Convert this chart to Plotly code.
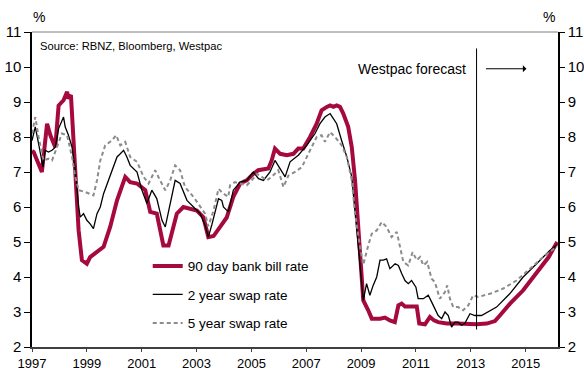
import plotly.graph_objects as go

# ---------------- data ----------------
bill_years = [1997.0, 1997.06, 1997.36, 1997.55, 1997.67, 1997.85, 1997.97, 1998.15, 1998.28, 1998.33,
              1998.42, 1998.46, 1998.58, 1998.70, 1998.82, 1999.0, 1999.12, 1999.37, 1999.61, 1999.85,
              2000.10, 2000.40, 2000.58, 2000.83, 2001.13, 2001.31, 2001.55, 2001.79, 2001.98, 2002.28,
              2002.52, 2003.01, 2003.25, 2003.43, 2003.62, 2003.86, 2004.10, 2004.34, 2004.59, 2004.83,
              2005.07, 2005.25, 2005.62, 2005.74, 2005.86, 2006.05, 2006.29, 2006.53, 2006.71, 2006.89,
              2007.14, 2007.38, 2007.56, 2007.75, 2007.87, 2007.99, 2008.11, 2008.23, 2008.35, 2008.53,
              2008.66, 2008.78, 2008.90, 2009.02, 2009.08, 2009.26, 2009.39, 2009.69, 2009.87, 2010.05,
              2010.23, 2010.36, 2010.48, 2010.60, 2011.03, 2011.12, 2011.33, 2011.51, 2011.66, 2011.81,
              2012.12, 2012.48, 2013.21, 2013.58, 2013.88, 2014.06, 2014.43, 2014.91, 2015.40, 2015.84,
              2016.15]
bill_rate = [7.6, 7.57, 7.0, 8.38, 8.05, 7.71, 8.9, 9.05, 9.29, 9.1,
             9.2, 8.67, 7.33, 5.33, 4.48, 4.38, 4.57, 4.71, 4.86, 5.43,
             6.19, 6.86, 6.71, 6.67, 6.48, 5.86, 5.81, 4.9, 4.9, 5.81,
             6.0, 5.9, 5.71, 5.14, 5.17, 5.43, 5.7, 6.29, 6.67, 6.76,
             6.95, 7.05, 7.1, 7.33, 7.67, 7.52, 7.48, 7.52, 7.67, 7.67,
             8.0, 8.38, 8.76, 8.86, 8.9, 8.86, 8.9, 8.86, 8.67, 8.29,
             7.71, 6.76, 5.33, 4.0, 3.33, 3.05, 2.81, 2.81, 2.84, 2.76,
             2.71, 3.19, 3.24, 3.16, 3.16, 2.67, 2.65, 2.86, 2.76, 2.71,
             2.67, 2.67, 2.65, 2.67, 2.74, 2.9, 3.24, 3.62, 4.10, 4.57,
             5.0]

swap2_years = [1997.0, 1997.12, 1997.24, 1997.40, 1997.48, 1997.60, 1997.73, 1997.85, 1997.97, 1998.15,
               1998.21, 1998.33, 1998.46, 1998.58, 1998.70, 1998.76, 1998.88, 1999.00, 1999.12, 1999.24,
               1999.37, 1999.49, 1999.61, 1999.79, 1999.97, 2000.10, 2000.22, 2000.34, 2000.46, 2000.58,
               2000.83, 2001.01, 2001.19, 2001.37, 2001.55, 2001.74, 2001.86, 2002.04, 2002.22, 2002.40,
               2002.65, 2002.89, 2003.13, 2003.31, 2003.43, 2003.56, 2003.74, 2003.80, 2003.92, 2003.98,
               2004.16, 2004.34, 2004.59, 2004.83, 2005.07, 2005.26, 2005.44, 2005.68, 2005.86, 2006.05,
               2006.23, 2006.41, 2006.71, 2007.02, 2007.32, 2007.50, 2007.68, 2007.87, 2007.99, 2008.11,
               2008.29, 2008.48, 2008.66, 2008.78, 2008.90, 2009.08, 2009.20, 2009.32, 2009.44, 2009.57,
               2009.69, 2009.81, 2009.93, 2010.05, 2010.24, 2010.36, 2010.48, 2010.60, 2010.72, 2010.84,
               2011.00, 2011.08, 2011.27, 2011.45, 2011.57, 2011.69, 2011.81, 2011.94, 2012.06, 2012.18,
               2012.30, 2012.42, 2012.54, 2012.66, 2012.78, 2012.97, 2013.15, 2013.39, 2013.63, 2013.94,
               2014.42, 2014.91, 2015.40, 2015.88, 2016.15]
swap2_rate = [7.9, 8.29, 7.81, 7.14, 7.62, 7.57, 7.62, 7.71, 8.24, 8.57,
              8.29, 8.05, 7.71, 7.05, 6.0, 5.71, 5.81, 5.62, 5.52, 5.38,
              5.81, 6.0, 6.38, 6.76, 7.19, 7.43, 7.52, 7.62, 7.43, 7.19,
              7.0, 6.48, 6.10, 6.48, 6.24, 5.62, 5.43, 6.10, 6.76, 6.67,
              6.19, 6.0, 5.81, 5.48, 5.14, 5.5, 6.10, 6.24, 6.19, 6.0,
              5.86, 6.48, 6.71, 6.76, 7.0, 6.81, 6.76, 7.0, 7.33, 7.10,
              6.86, 7.29, 7.48, 7.76, 8.10, 8.38, 8.57, 8.67, 8.52, 8.38,
              7.90, 7.43, 6.86, 5.90, 4.95, 3.33, 3.81, 3.48, 3.76, 4.0,
              4.48, 4.48, 4.52, 4.24, 4.38, 4.33, 4.10, 3.90, 3.81, 3.90,
              3.71, 3.38, 3.38, 3.48, 3.29, 3.10, 2.90, 2.81, 3.0, 2.90,
              2.57, 2.71, 2.71, 2.62, 2.67, 2.95, 2.90, 2.90, 3.0, 3.14,
              3.52, 4.0, 4.38, 4.76, 4.92]

swap5_years = [1997.0, 1997.12, 1997.24, 1997.42, 1997.60, 1997.73, 1997.91, 1998.09, 1998.28, 1998.46,
               1998.58, 1998.70, 1998.94, 1999.24, 1999.37, 1999.49, 1999.67, 1999.91, 2000.07, 2000.22,
               2000.40, 2000.58, 2000.83, 2001.07, 2001.25, 2001.49, 2001.67, 2001.86, 2002.04, 2002.22,
               2002.40, 2002.58, 2002.89, 2003.13, 2003.31, 2003.43, 2003.62, 2003.80, 2003.98, 2004.16,
               2004.22, 2004.40, 2004.65, 2004.83, 2005.01, 2005.20, 2005.38, 2005.56, 2005.74, 2005.98,
               2006.17, 2006.35, 2006.59, 2006.84, 2007.14, 2007.38, 2007.56, 2007.68, 2007.87, 2008.05,
               2008.29, 2008.48, 2008.66, 2008.78, 2008.96, 2009.08, 2009.26, 2009.39, 2009.57, 2009.75,
               2009.93, 2010.11, 2010.30, 2010.42, 2010.54, 2010.72, 2010.88, 2011.03, 2011.15, 2011.27,
               2011.41, 2011.57, 2011.69, 2011.87, 2012.06, 2012.14, 2012.24, 2012.36, 2012.54, 2012.72,
               2012.91, 2013.09, 2013.27, 2013.70, 2014.18, 2014.67, 2015.15, 2015.64, 2016.15]
swap5_rate = [8.10, 8.57, 8.0, 7.33, 7.38, 7.33, 7.71, 8.10, 8.05, 7.43,
              6.86, 6.48, 6.43, 6.33, 6.76, 7.33, 7.76, 7.90, 8.05, 7.76,
              7.86, 7.43, 7.29, 6.86, 6.67, 7.05, 6.76, 6.48, 6.76, 7.19,
              7.05, 6.57, 6.29, 6.02, 5.81, 5.45, 5.90, 6.52, 6.38, 6.29,
              6.62, 6.71, 6.67, 6.62, 6.76, 6.95, 6.86, 6.76, 6.86, 7.05,
              6.57, 6.90, 7.0, 7.14, 7.62, 8.0, 8.05, 7.86, 8.14, 8.0,
              7.76, 7.43, 6.76, 5.81, 4.86, 4.35, 4.90, 5.24, 5.33, 5.57,
              5.43, 5.14, 5.29, 4.90, 4.43, 4.33, 4.71, 4.48, 4.57, 4.33,
              4.43, 3.95, 3.86, 3.38, 3.57, 3.76, 3.38, 3.14, 3.14, 3.05,
              3.19, 3.48, 3.43, 3.52, 3.67, 3.90, 4.24, 4.57, 4.88]

series_names = ["90 day bank bill rate", "2 year swap rate", "5 year swap rate"]
x_tick_vals = [1997, 1999, 2001, 2003, 2005, 2007, 2009, 2011, 2013, 2015]
y_tick_vals = [2, 3, 4, 5, 6, 7, 8, 9, 10, 11]
forecast_start = 2013.21
source_text = "Source: RBNZ, Bloomberg, Westpac"
forecast_text = "Westpac forecast"

# ---------------- figure ----------------
FONT = "Liberation Sans, Arial, sans-serif"
RED = "#A6093D"

fig = go.Figure()
fig.add_trace(go.Scatter(x=bill_years, y=bill_rate, mode="lines", name=series_names[0],
                         legendgroup="a", line=dict(color=RED, width=4)))
fig.add_trace(go.Scatter(x=swap2_years, y=swap2_rate, mode="lines", name=series_names[1],
                         legendgroup="b", line=dict(color="#000000", width=1.3)))
fig.add_trace(go.Scatter(x=swap5_years, y=swap5_rate, mode="lines", name=series_names[2],
                         legendgroup="c", line=dict(color="#8c8c8c", width=2, dash="4px,3px")))
# invisible trace to activate the right-hand axis
fig.add_trace(go.Scatter(x=[x_tick_vals[0]], y=[y_tick_vals[0]], yaxis="y2", mode="lines",
                         showlegend=False, hoverinfo="skip", line=dict(width=0)))

fig.add_shape(type="line", xref="x", yref="y", x0=forecast_start, x1=forecast_start,
              y0=2.5, y1=10.53, line=dict(color="#000000", width=1))
# top frame line
fig.add_shape(type="line", xref="paper", yref="paper", x0=0, x1=1, y0=1, y1=1,
              line=dict(color="#7f7f7f", width=1))

fig.add_annotation(x=forecast_start, y=9.95, xref="x", yref="y", text=forecast_text,
                   showarrow=False, xanchor="right", yanchor="middle", xshift=-9,
                   font=dict(family=FONT, size=14, color="#000000"))
fig.add_annotation(x=2015.03, y=9.95, xref="x", yref="y", ax=-42, ay=0, text="",
                   showarrow=True, arrowhead=1, arrowsize=1.2, arrowwidth=1, arrowcolor="#000000")
fig.add_annotation(x=0.012, y=0.955, xref="paper", yref="paper", text=source_text,
                   showarrow=False, xanchor="left", yanchor="middle",
                   font=dict(family=FONT, size=11.2, color="#000000"))
fig.add_annotation(x=0.014, y=1.0, xref="paper", yref="paper", text="%", showarrow=False,
                   xanchor="center", yanchor="bottom", yshift=5,
                   font=dict(family=FONT, size=14, color="#000000"))
fig.add_annotation(x=0.983, y=1.0, xref="paper", yref="paper", text="%", showarrow=False,
                   xanchor="center", yanchor="bottom", yshift=5,
                   font=dict(family=FONT, size=14, color="#000000"))

fig.update_layout(
    width=584, height=368,
    margin=dict(l=31.7, r=25.7, t=31.7, b=21.3, autoexpand=False),
    paper_bgcolor="white", plot_bgcolor="white",
    font=dict(family=FONT, size=14, color="#000000"),
    showlegend=True,
    legend=dict(x=0.22, y=0.306, xanchor="left", yanchor="top",
                bgcolor="rgba(0,0,0,0)", tracegroupgap=8,
                font=dict(family=FONT, size=13.5, color="#000000")),
    xaxis=dict(range=[1997, 2016.18], tickvals=x_tick_vals, ticktext=[str(v) for v in x_tick_vals],
               showgrid=False, zeroline=False, showline=True, linecolor="#404040", linewidth=2,
               ticks="outside", ticklen=3, tickcolor="#404040", tickwidth=1, automargin=False,
               tickfont=dict(family=FONT, size=13)),
    yaxis=dict(range=[2, 11], tickvals=y_tick_vals, showgrid=False, zeroline=False,
               showline=True, linecolor="#000000", linewidth=1.5, automargin=False,
               ticks="outside", ticklen=6, tickcolor="#000000", tickwidth=1,
               tickfont=dict(family=FONT, size=15)),
    yaxis2=dict(range=[2, 11], tickvals=y_tick_vals, overlaying="y", side="right",
                showgrid=False, zeroline=False, showline=True, linecolor="#000000", linewidth=1.5,
                ticks="outside", ticklen=5, tickcolor="#000000", tickwidth=1, automargin=False,
                tickfont=dict(family=FONT, size=15)),
)

fig.write_html("out.html")
